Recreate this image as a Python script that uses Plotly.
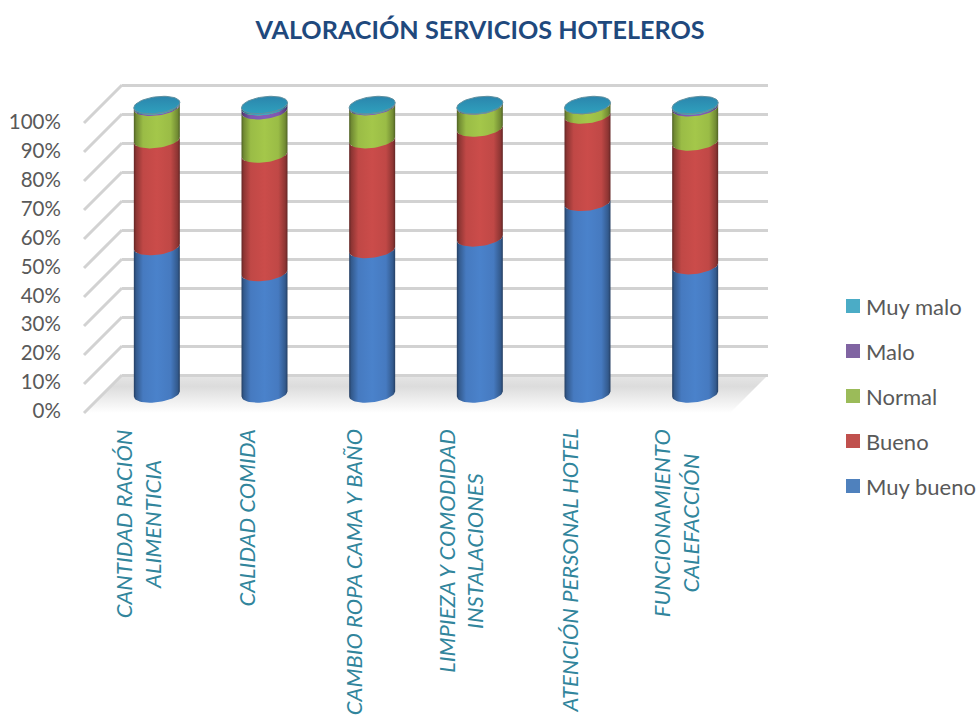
import numpy as np
import plotly.graph_objects as go

W, H = 977, 720

categories = ["CANTIDAD RACIÓN<br>ALIMENTICIA", "CALIDAD COMIDA", "CAMBIO ROPA CAMA Y BAÑO",
              "LIMPIEZA Y COMODIDAD<br>INSTALACIONES", "ATENCIÓN PERSONAL HOTEL",
              "FUNCIONAMIENTO<br>CALEFACCIÓN"]
muy_bueno = [51.0, 42.0, 50.0, 54.0, 66.3, 44.4]
bueno = [37.0, 41.0, 38.0, 38.0, 30.2, 42.8]
normal = [11.2, 15.0, 11.4, 7.6, 3.3, 11.8]
malo = [0.4, 1.4, 0.3, 0.2, 0.1, 0.6]
muy_malo = [0.4, 0.6, 0.3, 0.2, 0.1, 0.4]
series_names = ["Muy bueno", "Bueno", "Normal", "Malo", "Muy malo"]
series_values = [muy_bueno, bueno, normal, malo, muy_malo]
legend_colors = ["#4f81bd", "#c0504d", "#9bbb59", "#8064a2", "#4bacc6"]
side_colors = [(72, 125, 196), (196, 74, 72), (158, 192, 72), (128, 90, 180), (60, 160, 190)]
tick_values = list(range(0, 101, 10))
tick_labels = [f"{v}%" for v in tick_values]

def dom_x(a, b):
    return [a / W, b / W]

def dom_y(top, bottom):
    return [1 - bottom / H, 1 - top / H]

PX_UNIT = 2.89
BAR_DOM = (103, 749)
CAT_PX = (BAR_DOM[1] - BAR_DOM[0]) / 6
EA = 23 / CAT_PX
EB = 8.3 / PX_UNIT
ET = 2.6 / PX_UNIT

fig = go.Figure()

fig.add_trace(go.Scatter(x=[84, 122, 768, 730, 84], y=[413, 375, 375, 413, 413], mode="lines",
                         line=dict(width=0), fill="toself", hoverinfo="skip", showlegend=False,
                         fillgradient=dict(type="vertical", start=375, stop=413,
                                           colorscale=[[0, "#e6e6e6"], [0.3, "#dcdcdc"], [0.65, "#eeeeee"], [1, "#ffffff"]]),
                         xaxis="x", yaxis="y"))
dx, dy = [], []
for k in range(len(tick_values)):
    back = 375 - 29 * k
    dx += [84, 122, None]
    dy += [back + 38, back, None]
fig.add_trace(go.Scatter(x=dx, y=dy, mode="lines", line=dict(color="#d2d2d2", width=3),
                         hoverinfo="skip", showlegend=False, xaxis="x", yaxis="y"))
fig.add_trace(go.Scatter(x=[0], y=[0], mode="markers", marker=dict(opacity=0), hoverinfo="skip",
                         showlegend=False, xaxis="x2", yaxis="y2"))

xs = list(range(len(categories)))
for name, vals, col in zip(series_names, series_values, legend_colors):
    fig.add_trace(go.Bar(x=xs, y=vals, name=name, marker=dict(color=col, line=dict(width=0)),
                         width=40 / CAT_PX, showlegend=False, xaxis="x3", yaxis="y3"))

def shade(rgb):
    def f(m):
        return "rgb(%d,%d,%d)" % tuple(min(255, int(c * m)) for c in rgb)
    return [[0, f(.5)], [.05, f(.72)], [.2, f(.98)], [.5, f(1.04)], [.8, f(.98)], [.95, f(.72)], [1, f(.5)]]

t = np.linspace(np.pi, 2 * np.pi, 31)
for i in xs:
    cum = 0.0
    for vals, rgb in zip(series_values, side_colors):
        lo, cum = cum, cum + vals[i]
        ax = i + EA * np.cos(t)
        low = lo + EB * np.sin(t) + ET * np.cos(t)
        up = cum + EB * np.sin(t) + ET * np.cos(t)
        fig.add_trace(go.Scatter(x=list(ax) + list(ax[::-1]), y=list(low) + list(up[::-1]),
                                 mode="lines", line=dict(width=0), fill="toself", hoverinfo="skip",
                                 showlegend=False, xaxis="x3", yaxis="y3",
                                 fillgradient=dict(type="horizontal", colorscale=shade(rgb),
                                                   start=i - EA, stop=i + EA)))
    tt = np.linspace(0, 2 * np.pi, 61)
    fig.add_trace(go.Scatter(x=i + EA * np.cos(tt), y=cum + EB * np.sin(tt) + ET * np.cos(tt),
                             mode="lines", line=dict(width=1, color="#5f8f9f"), fill="toself",
                             hoverinfo="skip", showlegend=False, xaxis="x3", yaxis="y3",
                             fillgradient=dict(type="vertical", start=cum - EB, stop=cum + EB,
                                               colorscale=[[0, "#2fa0bd"], [1, "#2b86ad"]])))

fig.add_trace(go.Scatter(x=[0], y=[0], mode="markers", marker=dict(opacity=0), hoverinfo="skip",
                         showlegend=False, xaxis="x4", yaxis="y4"))

for r, (name, col) in enumerate(zip(series_names[::-1], legend_colors[::-1])):
    ly = 306 + 45 * r
    fig.add_trace(go.Scatter(x=[853], y=[ly], mode="markers", name=name, hoverinfo="skip", showlegend=False,
                             marker=dict(symbol="square", size=14, color=col, line=dict(width=0)),
                             xaxis="x", yaxis="y"))
    fig.add_annotation(text=name, x=866, xref="x", y=ly, yref="y", xanchor="left", yanchor="middle",
                       showarrow=False, xshift=-2, font=dict(family="Lato", size=22, color="#595959"))

bar_lo, bar_hi = -12, 112
wall_lo, wall_hi = -5, 105
hidden = dict(visible=False, fixedrange=True, automargin=False)
fig.update_layout(
    width=W, height=H, margin=dict(l=0, r=0, t=0, b=0), paper_bgcolor="white", plot_bgcolor="rgba(0,0,0,0)",
    barmode="stack", showlegend=False, font=dict(family="Lato", color="#595959"),
    title=dict(text="<b>VALORACIÓN SERVICIOS HOTELEROS</b>", x=480 / W, xanchor="center",
               y=1 - 30 / H, yanchor="middle", font=dict(family="Lato", size=25.2, color="#1f497d")),
    xaxis=dict(domain=[0, 1], range=[0, W], **hidden),
    yaxis=dict(domain=[0, 1], range=[H, 0], **hidden),
    xaxis2=dict(domain=dom_x(122, 768), range=[0, 1], anchor="y2", **hidden),
    yaxis2=dict(domain=dom_y(375 - wall_hi * 2.9, 375 - wall_lo * 2.9), range=[wall_lo, wall_hi], anchor="x2",
                tickvals=tick_values, showgrid=True, gridcolor="#d2d2d2", gridwidth=3, zeroline=False,
                showticklabels=False, showline=False, fixedrange=True, ticks="", automargin=False),
    xaxis3=dict(domain=dom_x(*BAR_DOM), range=[-0.5, 5.5], anchor="y3", **hidden),
    yaxis3=dict(domain=dom_y(394 - bar_hi * PX_UNIT, 394 - bar_lo * PX_UNIT), range=[bar_lo, bar_hi], anchor="x3", **hidden),
    xaxis4=dict(domain=dom_x(84, 730), range=[-0.5, 5.5], anchor="y4", **hidden),
    yaxis4=dict(domain=dom_y(122, 411), range=[0, 100], anchor="x4", tickvals=tick_values, ticktext=tick_labels,
                showgrid=False, zeroline=False, showline=False, ticks="outside", ticklen=18, automargin=False,
                tickcolor="rgba(0,0,0,0)", tickfont=dict(family="Lato", size=20.5, color="#595959"), fixedrange=True),
)
for i, c in enumerate(categories):
    fig.add_annotation(text=f"<i>{c}</i>", x=i, xref="x4", y=427, yref="y", yanchor="top",
                       xanchor="center", textangle=-90, showarrow=False, align="center",
                       font=dict(family="Lato", size=22, color="#31859c"))

fig.write_html("out.html", config=dict(displayModeBar=False),
               post_script="document.body.style.margin='0';document.documentElement.style.overflow='hidden';")
